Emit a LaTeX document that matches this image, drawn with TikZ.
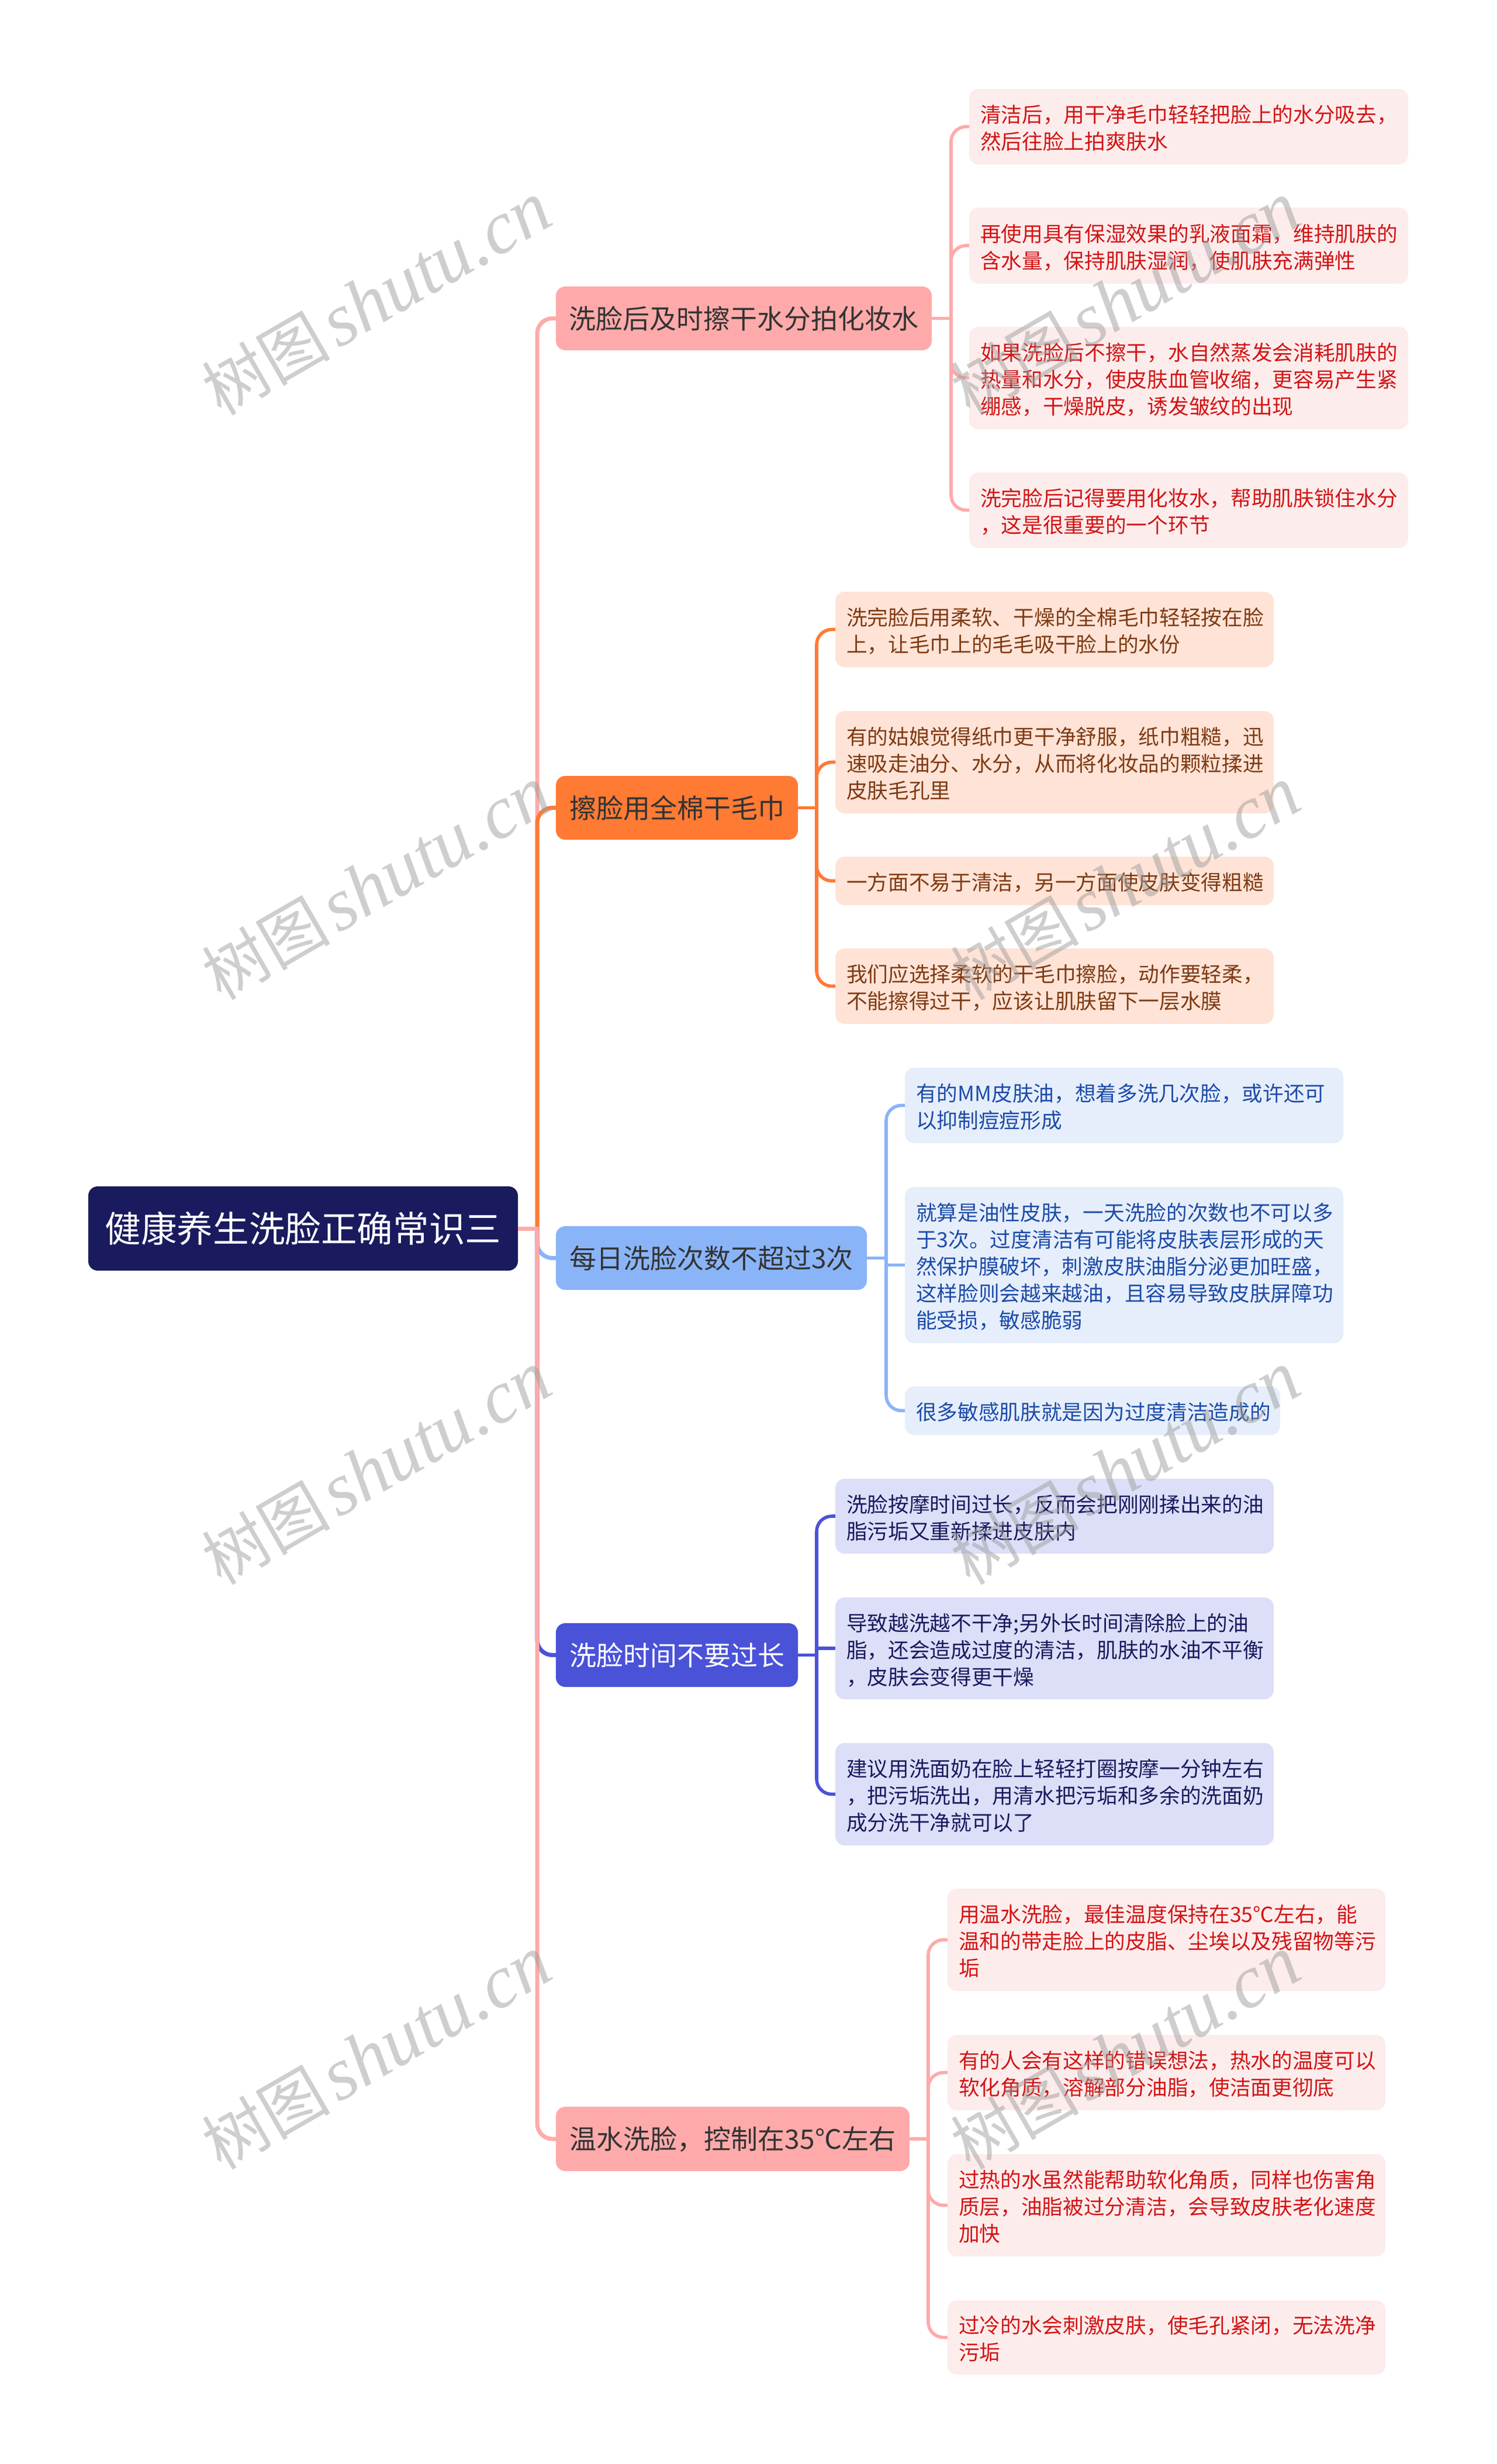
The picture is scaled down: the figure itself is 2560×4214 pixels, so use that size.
\documentclass[tikz,border=0pt]{standalone}
\usepackage{fontspec}
\setmainfont{Noto Sans CJK SC}
\newfontfamily\wmlatin{Liberation Serif}
\definecolor{rootc}{HTML}{1A1A5E}
\definecolor{pinkc}{HTML}{FFAAAA}
\definecolor{orangec}{HTML}{FF7A33}
\definecolor{bluec}{HTML}{8AB4F8}
\definecolor{indigoc}{HTML}{4A52D8}
\definecolor{inkc}{HTML}{333333}
\definecolor{pinkfill}{HTML}{FDECEC}
\definecolor{orangefill}{HTML}{FFE3D6}
\definecolor{bluefill}{HTML}{E6EEFB}
\definecolor{indigofill}{HTML}{DCDFF7}
\definecolor{pinktext}{HTML}{D11515}
\definecolor{orangetext}{HTML}{7F3A12}
\definecolor{bluetext}{HTML}{1C4BA8}
\definecolor{indigotext}{HTML}{1A1A5E}
\tikzset{
  boxbase/.style={rectangle,rounded corners=8pt,draw=none,inner ysep=0pt,outer sep=0pt},
  rootbox/.style={boxbase,fill=rootc,text=white,align=center,font=\fontsize{30.8pt}{38pt}\selectfont},
  branchbox/.style={boxbase,align=center,font=\fontsize{23pt}{29pt}\selectfont},
  leafbox/.style={boxbase,inner xsep=9.5pt,align=left,font=\fontsize{17.85pt}{23pt}\selectfont},
  pinkleaf/.style={leafbox,fill=pinkfill,text=pinktext},
  orangeleaf/.style={leafbox,fill=orangefill,text=orangetext},
  blueleaf/.style={leafbox,fill=bluefill,text=bluetext},
  indigoleaf/.style={leafbox,fill=indigofill,text=indigotext},
  trunkline/.style={line width=3.5pt},
  leafline/.style={line width=2.8pt},
  watermark/.style={rotate=30,text=black!38,text opacity=0.5,font=\fontsize{55pt}{60pt}\selectfont,inner sep=0pt},
}
\newcommand{\placebox}[7]{%
  \pgfmathsetmacro\bxw{(#5-#3)*0.5}%
  \pgfmathsetmacro\bxh{(#6-#4)*0.5}%
  \pgfmathsetmacro\bxt{\bxw-19}%
  \node[#2,minimum width=\bxw pt,minimum height=\bxh pt,text width=\bxt pt] (#1) at ({(#3+#5)/2},{(#4+#6)/2}) {\rule{0pt}{20pt}#7\rule[-4pt]{0pt}{4pt}};%
}
% #1 = strut height, #9 = strut depth: they fix the text's vertical place in the box
\newcommand{\placehead}[9]{%
  \pgfmathsetmacro\bxw{(#6-#4)*0.5}%
  \pgfmathsetmacro\bxh{(#7-#5)*0.5}%
  \node[#3,minimum width=\bxw pt,minimum height=\bxh pt,inner xsep=0pt,text width=\bxw pt] (#2) at ({(#4+#6)/2},{(#5+#7)/2}) {\rule{0pt}{#1}#8\rule[-#9]{0pt}{#9}};%
}
% parent -> bus (sharp), bus -> child (rounded at the child end only)
\newcommand{\feed}[6]{%
  \draw[#1,#2] (#3.east) -- (#4 |- #3.east);
  \draw[#1,#2,rounded corners=#6pt,shorten <=-1.4pt] (#4 |- #3.east) -- (#4 |- #5.west) -- (#5.west);%
}
\begin{document}
\begin{tikzpicture}[x=0.5pt,y=-0.5pt]
\useasboundingbox (0,0) rectangle (2560,4214);
\fill[white] (0,0) rectangle (2560,4214);

% root and branches
\placehead{32pt}{root}{rootbox}{151}{2029}{886}{2173}{健康养生洗脸正确常识三}{8.7pt}
\placehead{24pt}{b1}{branchbox,fill=pinkc,text=inkc}{951}{490}{1594}{599}{洗脸后及时擦干水分拍化妆水}{6.5pt}
\placehead{24pt}{b2}{branchbox,fill=orangec,text=inkc}{951}{1327}{1365}{1436}{擦脸用全棉干毛巾}{6.5pt}
\placehead{24pt}{b3}{branchbox,fill=bluec,text=inkc}{951}{2097}{1483}{2206}{每日洗脸次数不超过3次}{6.5pt}
\placehead{24pt}{b4}{branchbox,fill=indigoc,text=white}{951}{2776}{1365}{2885}{洗脸时间不要过长}{6.5pt}
\placehead{24pt}{b5}{branchbox,fill=pinkc,text=inkc}{951}{3603}{1556}{3713}{温水洗脸，控制在35℃左右}{6.5pt}

% leaves
\placebox{l11}{pinkleaf}{1658}{152}{2409}{281}{清洁后，用干净毛巾轻轻把脸上的水分吸去，\\然后往脸上拍爽肤水}
\placebox{l12}{pinkleaf}{1658}{355}{2409}{485}{再使用具有保湿效果的乳液面霜，维持肌肤的\\含水量，保持肌肤湿润，使肌肤充满弹性}
\placebox{l13}{pinkleaf}{1658}{559}{2409}{734}{如果洗脸后不擦干，水自然蒸发会消耗肌肤的\\热量和水分，使皮肤血管收缩，更容易产生紧\\绷感，干燥脱皮，诱发皱纹的出现}
\placebox{l14}{pinkleaf}{1658}{808}{2409}{937}{洗完脸后记得要用化妆水，帮助肌肤锁住水分\\，这是很重要的一个环节}

\placebox{l21}{orangeleaf}{1429}{1012}{2179}{1141}{洗完脸后用柔软、干燥的全棉毛巾轻轻按在脸\\上，让毛巾上的毛毛吸干脸上的水份}
\placebox{l22}{orangeleaf}{1429}{1216}{2179}{1391}{有的姑娘觉得纸巾更干净舒服，纸巾粗糙，迅\\速吸走油分、水分，从而将化妆品的颗粒揉进\\皮肤毛孔里}
\placebox{l23}{orangeleaf}{1429}{1465}{2179}{1548}{一方面不易于清洁，另一方面使皮肤变得粗糙}
\placebox{l24}{orangeleaf}{1429}{1622}{2179}{1751}{我们应选择柔软的干毛巾擦脸，动作要轻柔，\\不能擦得过干，应该让肌肤留下一层水膜}

\placebox{l31}{blueleaf}{1548}{1826}{2298}{1955}{有的MM皮肤油，想着多洗几次脸，或许还可\\以抑制痘痘形成}
\placebox{l32}{blueleaf}{1548}{2030}{2298}{2297}{就算是油性皮肤，一天洗脸的次数也不可以多\\于3次。过度清洁有可能将皮肤表层形成的天\\然保护膜破坏，刺激皮肤油脂分泌更加旺盛，\\这样脸则会越来越油，且容易导致皮肤屏障功\\能受损，敏感脆弱}
\placebox{l33}{blueleaf}{1548}{2371}{2190}{2454}{很多敏感肌肤就是因为过度清洁造成的}

\placebox{l41}{indigoleaf}{1429}{2529}{2179}{2657}{洗脸按摩时间过长，反而会把刚刚揉出来的油\\脂污垢又重新揉进皮肤内}
\placebox{l42}{indigoleaf}{1429}{2732}{2179}{2906}{导致越洗越不干净;另外长时间清除脸上的油\\脂，还会造成过度的清洁，肌肤的水油不平衡\\，皮肤会变得更干燥}
\placebox{l43}{indigoleaf}{1429}{2981}{2179}{3156}{建议用洗面奶在脸上轻轻打圈按摩一分钟左右\\，把污垢洗出，用清水把污垢和多余的洗面奶\\成分洗干净就可以了}

\placebox{l51}{pinkleaf}{1621}{3230}{2370}{3405}{用温水洗脸，最佳温度保持在35℃左右，能\\温和的带走脸上的皮脂、尘埃以及残留物等污\\垢}
\placebox{l52}{pinkleaf}{1621}{3480}{2370}{3609}{有的人会有这样的错误想法，热水的温度可以\\软化角质，溶解部分油脂，使洁面更彻底}
\placebox{l53}{pinkleaf}{1621}{3684}{2370}{3859}{过热的水虽然能帮助软化角质，同样也伤害角\\质层，油脂被过分清洁，会导致皮肤老化速度\\加快}
\placebox{l54}{pinkleaf}{1621}{3934}{2370}{4061}{过冷的水会刺激皮肤，使毛孔紧闭，无法洗净\\污垢}

% bus coordinates
\coordinate (trunk) at (919,0);
\coordinate (bus1) at (1627,0);
\coordinate (bus2) at (1397,0);
\coordinate (bus3) at (1516,0);
\coordinate (bus4) at (1397,0);
\coordinate (bus5) at (1588,0);

% leaf connectors
\foreach \n/\r in {l11/13,l12/13,l13/13,l14/13}{\feed{leafline}{pinkc}{b1}{bus1}{\n}{\r}}
\foreach \n/\r in {l21/13,l22/13,l23/13,l24/13}{\feed{leafline}{orangec}{b2}{bus2}{\n}{\r}}
\foreach \n/\r in {l31/13,l32/0,l33/13}{\feed{leafline}{bluec}{b3}{bus3}{\n}{\r}}
\foreach \n/\r in {l41/13,l42/0,l43/13}{\feed{leafline}{indigoc}{b4}{bus4}{\n}{\r}}
\foreach \n/\r in {l51/13,l52/13,l53/13,l54/13}{\feed{leafline}{pinkc}{b5}{bus5}{\n}{\r}}

% trunk connectors, in the reference's stacking order
\feed{trunkline}{pinkc}{root}{trunk}{b1}{13}
\feed{trunkline}{orangec}{root}{trunk}{b2}{13}
\feed{trunkline}{bluec}{root}{trunk}{b3}{13}
\feed{trunkline}{indigoc}{root}{trunk}{b4}{13}
\feed{trunkline}{pinkc}{root}{trunk}{b5}{13}

% watermarks
\foreach \wx/\wn in {644/a,1925/b}{
  \foreach \wy/\wm in {511/a,1511/b,2511/c,3511/d}{
    \node[watermark] (wm\wn\wm) at (\wx,\wy) {树图\hspace{6pt}{\wmlatin\itshape\fontsize{64pt}{70pt}\selectfont shutu.cn}};
  }
}
\end{tikzpicture}
\end{document}
